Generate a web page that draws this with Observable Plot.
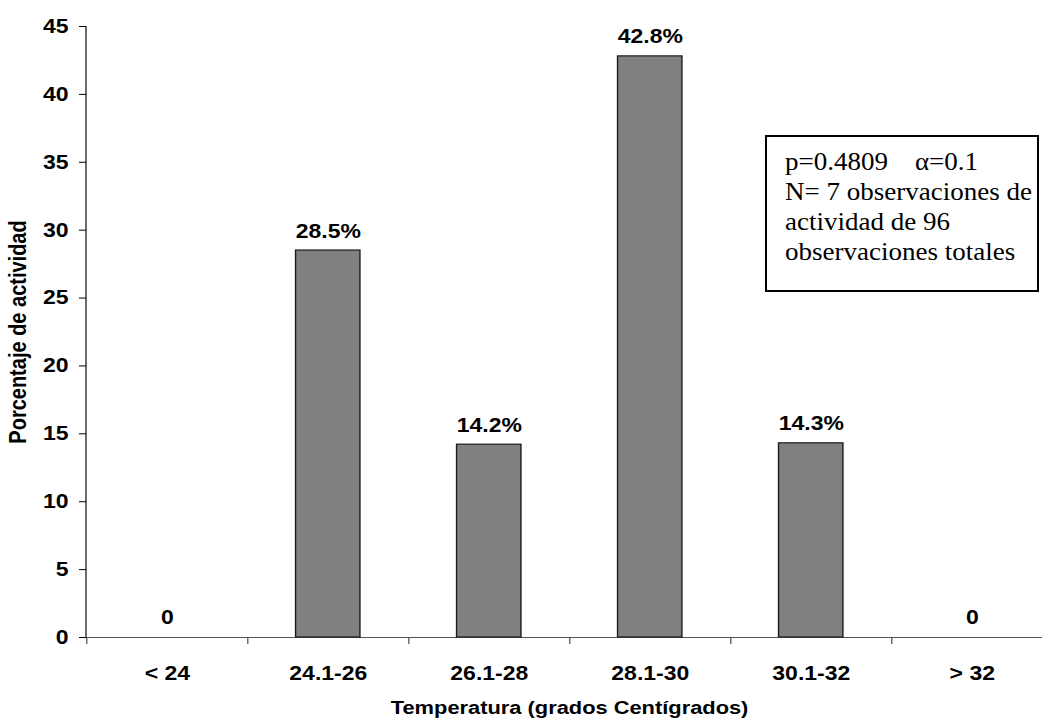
<!DOCTYPE html>
<html><head><meta charset="utf-8">
<script src="https://cdn.jsdelivr.net/npm/d3@7"></script>
<script src="https://cdn.jsdelivr.net/npm/@observablehq/plot@0.6"></script>
<style>
body{margin:0;background:#fff;}
#wrap{position:relative;width:1042px;height:721px;overflow:hidden;background:#fff;}
#chart svg{display:block;transform-origin:0 0;}
#box{position:absolute;left:765px;top:135px;width:270px;height:153px;border:2px solid #000;background:#fff;}
#boxtext{position:absolute;left:18px;top:10px;font-family:"Liberation Serif","Times New Roman",serif;font-size:25px;line-height:30px;white-space:pre;transform:scaleX(1.08);transform-origin:0 0;color:#000;}
</style></head><body>
<div id="wrap"><div id="chart"></div><div id="box"><div id="boxtext"></div></div></div>
<script>
const categories = ["< 24", "24.1-26", "26.1-28", "28.1-30", "30.1-32", "> 32"];
const values = [0, 28.5, 14.2, 42.8, 14.3, 0];
const valueLabels = ["0", "28.5%", "14.2%", "42.8%", "14.3%", "0"];
const yTicks = [0, 5, 10, 15, 20, 25, 30, 35, 40, 45];
const xTitle = "Temperatura (grados Centígrados)";
const yTitle = "Porcentaje de actividad";
const noteLines = ["p=0.4809    \u03b1=0.1", "N= 7 observaciones de", "actividad de 96", "observaciones totales"];

const data = categories.map((c, i) => ({cat: c, value: values[i], label: valueLabels[i]}));

const S = 1.15;            // horizontal stretch of the original picture
const W = 1042 / S;
const x0 = 86 / S, x1 = 1052 / S;
const step = (x1 - x0) / categories.length;

const yAxisLine = (index, scales, values, dims) => {
  const l = document.createElementNS("http://www.w3.org/2000/svg", "line");
  l.setAttribute("x1", dims.marginLeft);
  l.setAttribute("x2", dims.marginLeft);
  l.setAttribute("y1", scales.y(0));
  l.setAttribute("y2", scales.y(45));
  l.setAttribute("stroke", "#000");
  l.setAttribute("stroke-width", 1);
  return l;
};

const chart = Plot.plot({
  width: W,
  height: 721,
  marginLeft: x0,
  marginRight: 0,
  marginTop: 26,
  marginBottom: 84,
  style: {fontFamily: "'Liberation Sans', Arial, sans-serif", fontWeight: "bold", fontSize: "20px", color: "#000", background: "#fff", overflow: "visible"},
  x: {domain: categories, range: [x0, x1], paddingInner: 0.6, paddingOuter: 0.3},
  y: {domain: [0, 45], range: [637, 26]},
  marks: [
    Plot.ruleY([0], {stroke: "#555", strokeWidth: 1.2}),
    Plot.barY(data, {x: "cat", y: "value", fill: "#808080", stroke: "#1a1a1a", strokeWidth: 1.2}),
    yAxisLine,
    Plot.axisY({ticks: yTicks, tickSize: 7 / S, tickPadding: 9.5, label: null, fontSize: 20, fontWeight: "bold"}),
    Plot.axisX({tickSize: 7, dx: -step / 2, tickFormat: () => "", label: null, stroke: "#444"}),
    Plot.axisX({tickSize: 0, tickPadding: 28, label: null, fontSize: 20, fontWeight: "bold"}),
    Plot.text(data, {x: "cat", y: "value", text: "label", dy: -13, lineAnchor: "bottom", fontSize: 20, fontWeight: "bold"}),
    Plot.text([xTitle], {frameAnchor: "bottom", text: d => d, textAnchor: "middle", dx: 569 / S - (x0 + W) / 2, dy: 70, lineAnchor: "middle", fontSize: 19, fontWeight: "bold"}),
    Plot.text([yTitle], {frameAnchor: "left", text: d => d, rotate: -90, textAnchor: "middle", dx: 18 / S - x0, lineAnchor: "middle", fontSize: 20, fontWeight: "bold"})
  ]
});
chart.style.transform = `scaleX(${S})`;
document.getElementById("chart").appendChild(chart);
document.getElementById("boxtext").textContent = noteLines.join("\n");
</script>
</body></html>
